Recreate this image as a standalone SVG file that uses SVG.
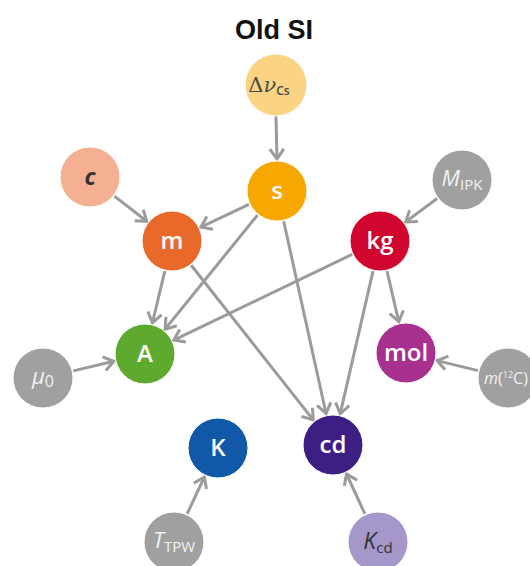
<svg xmlns="http://www.w3.org/2000/svg" width="530" height="566" viewBox="0 0 530 566">
<defs>
<marker id="ah" markerUnits="userSpaceOnUse" markerWidth="18" markerHeight="18" viewBox="0 0 18 18" refX="13" refY="9" orient="auto">
<path d="M3,2 L13,9 L3,16" fill="none" stroke="#9b9b9b" stroke-width="3"/>
</marker>
</defs>
<style>
.e{stroke:#9b9b9b;stroke-width:3;fill:none;marker-end:url(#ah)}
.n{stroke:#ffffff;stroke-width:1}
.l{font-family:"Open Sans","Liberation Sans",sans-serif;font-weight:600;font-size:24px;fill:#ffffff;text-anchor:middle}
.g{font-family:"Open Sans","Liberation Sans",sans-serif;font-size:22px;fill:#f2f2f2;text-anchor:middle}
.sub{font-size:15px;font-style:normal}
.it{font-style:italic}
</style>
<rect width="530" height="566" fill="#ffffff"/>
<text x="274" y="39" font-family="Liberation Sans, Arial, sans-serif" font-weight="bold" font-size="27" text-anchor="middle" fill="#111">Old SI</text>
<g id="edges">
<line class="e" x1="276" y1="116" x2="277" y2="159"/>
<line class="e" x1="114.4" y1="196.1" x2="146.8" y2="221.3"/>
<line class="e" x1="249" y1="204.3" x2="200.9" y2="227.2"/>
<line class="e" x1="257.5" y1="215.1" x2="165.1" y2="329.1"/>
<line class="e" x1="283.7" y1="221.3" x2="326.1" y2="413.7"/>
<line class="e" x1="164.8" y1="271.1" x2="152.4" y2="322.9"/>
<line class="e" x1="191.2" y1="265.3" x2="313.2" y2="419.9"/>
<line class="e" x1="352.1" y1="254.4" x2="173.8" y2="340.1"/>
<line class="e" x1="373" y1="271.2" x2="340.2" y2="413.8"/>
<line class="e" x1="387" y1="271.2" x2="398.8" y2="321.8"/>
<line class="e" x1="437.1" y1="198.5" x2="405.7" y2="221.9"/>
<line class="e" x1="73.2" y1="370.9" x2="113.9" y2="361.3"/>
<line class="e" x1="477.9" y1="370.6" x2="437.1" y2="360.6"/>
<line class="e" x1="187.1" y1="513.9" x2="204.4" y2="477"/>
<line class="e" x1="364.9" y1="513.9" x2="346.5" y2="474"/>
</g>
<g id="dnu">
<circle class="n" cx="276" cy="85" r="31" fill="#fad483"/>
<text x="269" y="92" font-family="DejaVu Serif, Liberation Serif, serif" font-size="21" fill="#4a4a4a" text-anchor="middle">Δ<tspan font-style="italic">ν</tspan><tspan font-family="Open Sans, sans-serif" font-size="12" font-weight="600" dy="3">Cs</tspan></text>
</g>
<g id="c">
<circle class="n" cx="90" cy="177" r="30" fill="#f5b093"/>
<text x="90" y="185" font-family="Open Sans, Liberation Sans, sans-serif" font-weight="700" font-style="italic" font-size="23" fill="#333" text-anchor="middle">c</text>
</g>
<g id="s">
<circle class="n" cx="277" cy="191" r="30" fill="#f6a800"/>
<text class="l" x="277" y="199">s</text>
</g>
<g id="m">
<circle class="n" cx="172" cy="241" r="30" fill="#e9692a"/>
<text class="l" x="172" y="249">m</text>
</g>
<g id="kg">
<circle class="n" cx="380" cy="241" r="30" fill="#d1062e"/>
<text class="l" x="380" y="249">kg</text>
</g>
<g id="MIPK">
<circle class="n" cx="462" cy="180" r="30" fill="#a0a0a0"/>
<text class="g" x="462" y="186"><tspan class="it">M</tspan><tspan class="sub" dy="4">IPK</tspan></text>
</g>
<g id="A">
<circle class="n" cx="145" cy="354" r="30" fill="#5eaa2f"/>
<text class="l" x="145" y="362">A</text>
</g>
<g id="mu0">
<circle class="n" cx="43" cy="378" r="30" fill="#a0a0a0"/>
<text class="g" x="43" y="384"><tspan class="it">μ</tspan><tspan font-size="16" dy="3">0</tspan></text>
</g>
<g id="mol">
<circle class="n" cx="406" cy="353" r="30" fill="#a8318f"/>
<text class="l" x="406" y="361">mol</text>
</g>
<g id="m12C">
<circle class="n" cx="508" cy="378" r="30" fill="#a0a0a0"/>
<text x="506" y="384" font-family="Open Sans, Liberation Sans, sans-serif" font-size="16" fill="#f2f2f2" text-anchor="middle"><tspan font-style="italic">m</tspan>(<tspan font-size="9" dy="-6">12</tspan><tspan dy="6">C)</tspan></text>
</g>
<g id="K">
<circle class="n" cx="218" cy="448" r="30" fill="#1159a8"/>
<text class="l" x="218" y="456">K</text>
</g>
<g id="cd">
<circle class="n" cx="333" cy="445" r="30" fill="#3d1f83"/>
<text class="l" x="333" y="453">cd</text>
</g>
<g id="TTPW">
<circle class="n" cx="174" cy="542" r="30" fill="#a0a0a0"/>
<text class="g" x="174" y="548"><tspan class="it">T</tspan><tspan class="sub" dy="4">TPW</tspan></text>
</g>
<g id="Kcd">
<circle class="n" cx="378" cy="542" r="30" fill="#a597c9"/>
<text x="378" y="549" font-family="Open Sans, Liberation Sans, sans-serif" font-size="23" fill="#333" text-anchor="middle"><tspan font-style="italic">K</tspan><tspan font-size="15" dy="4">cd</tspan></text>
</g>
</svg>
